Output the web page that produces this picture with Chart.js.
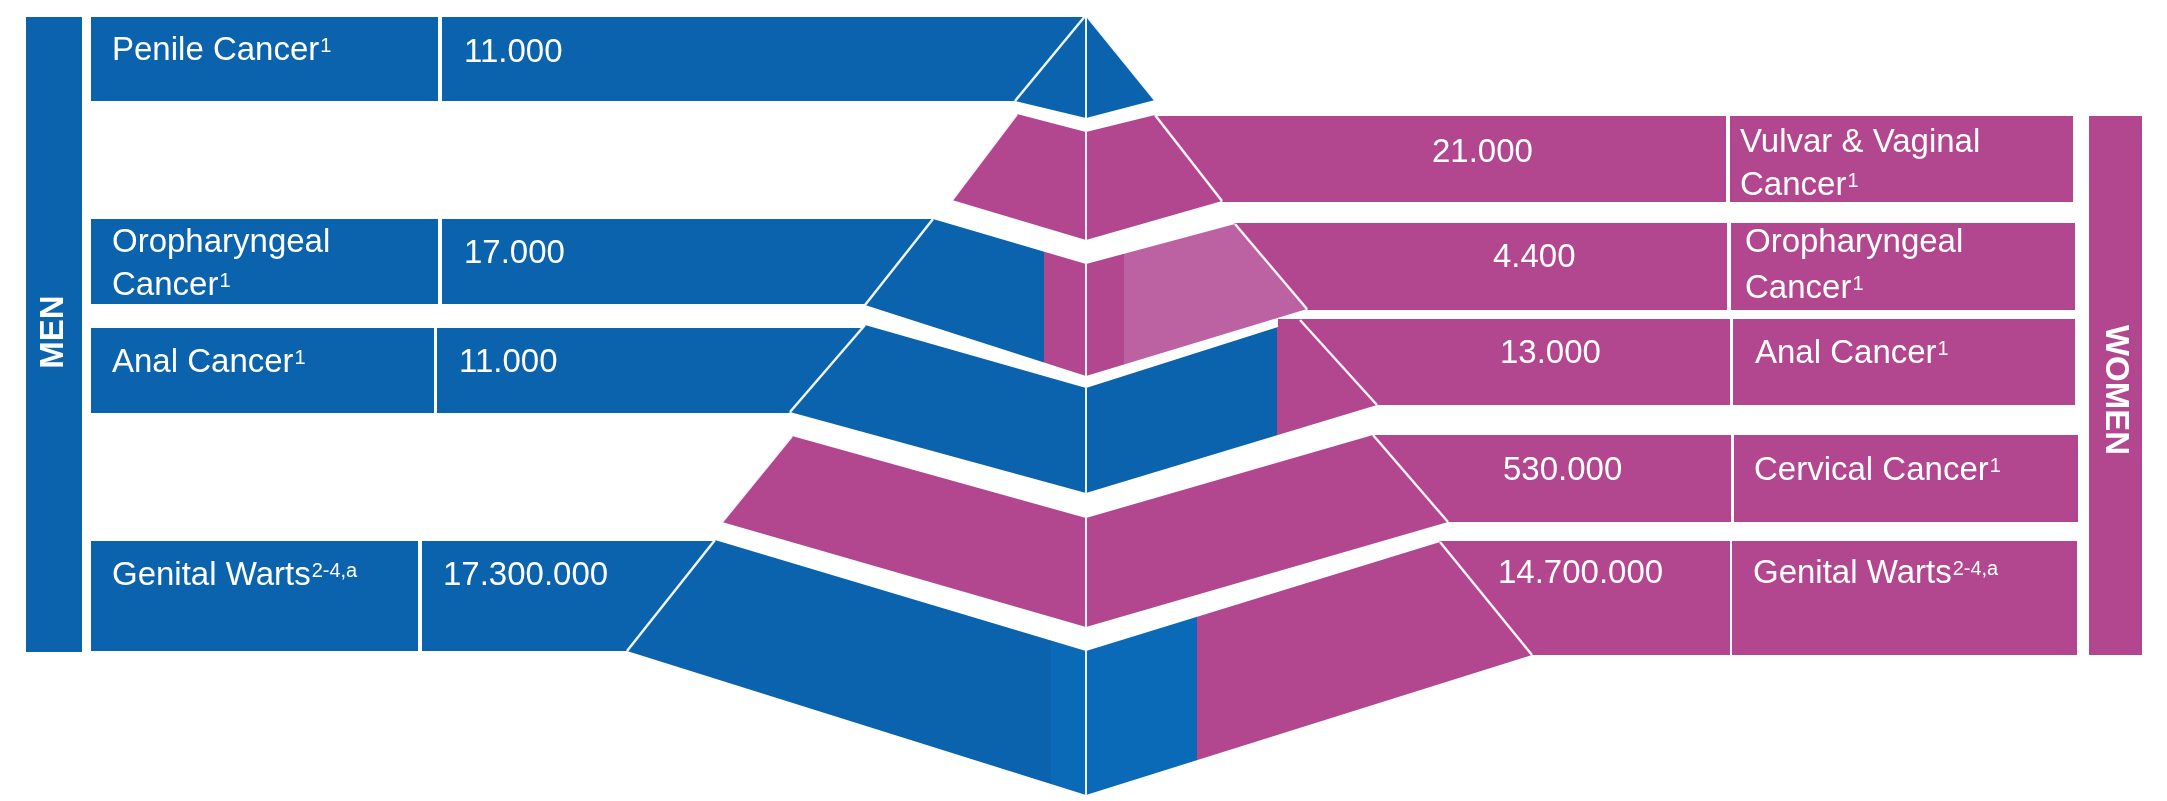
<!DOCTYPE html>
<html lang="en">
<head>
<meta charset="UTF-8">
<title>HPV related diseases - men and women</title>
<script src="https://cdn.jsdelivr.net/npm/chart.js"></script>
<style>
  html, body { margin: 0; padding: 0; background: #fff; }
  canvas { display: block; }
</style>
</head>
<body>
<canvas id="pyramid" width="2167" height="801"></canvas>
<script>
  // ---- data ----
  const menLabels = [['Penile Cancer'], ['Oropharyngeal', 'Cancer'], ['Anal Cancer'], ['Genital Warts']];
  const menRefs = ['1', '1', '1', '2-4,a'];
  const menCases = [11000, 17000, 11000, 17300000];

  const womenLabels = [['Vulvar & Vaginal', 'Cancer'], ['Oropharyngeal', 'Cancer'], ['Anal Cancer'], ['Cervical Cancer'], ['Genital Warts']];
  const womenRefs = ['1', '1', '1', '1', '2-4,a'];
  const womenCases = [21000, 4400, 13000, 530000, 14700000];

  const sideTitles = ['MEN', 'WOMEN'];

  // ---- layout (in scale units, 1 unit = 1px of the picture) ----
  const BLUE = '#0c63ad', BLUE_LIGHT = '#0b6ab7', PINK = '#b2478f', PINK_LIGHT = '#bc61a1';
  const FONT = '"Liberation Sans", Arial, sans-serif';
  const MID = 1086;

  // pyramid tiers top to bottom: outer corners + y of the centre line
  const tiers = [
    { lt: [1086, 15], rt: [1086, 15], ct: 15, lb: [1015, 101], rb: [1155, 100], cb: 118, fills: [[0, BLUE]] },
    { lt: [1017, 114], rt: [1155, 115], ct: 132, lb: [952, 200], rb: [1222, 201], cb: 240, fills: [[0, PINK]] },
    { lt: [933, 219], rt: [1235, 224], ct: 264, lb: [865, 305], rb: [1307, 309], cb: 376, fills: [[0, BLUE], [1044, PINK], [1124, PINK_LIGHT]] },
    { lt: [865, 325], rt: [1300, 320], ct: 388, lb: [790, 412], rb: [1377, 405], cb: 493, fills: [[0, BLUE], [1277, PINK]] },
    { lt: [792, 436], rt: [1373, 435], ct: 518, lb: [722, 522], rb: [1448, 522], cb: 627, fills: [[0, PINK]] },
    { lt: [715, 540], rt: [1440, 542], ct: 651, lb: [627, 651], rb: [1532, 655], cb: 795, fills: [[0, BLUE], [1051, BLUE_LIGHT], [1197, PINK]] }
  ];

  const menRows = [
    { y0: 17, y1: 101, lx1: 438, vx0: 442, tier: 0, textY: [60], valX: 464, valY: 62 },
    { y0: 219, y1: 304, lx1: 438, vx0: 442, tier: 2, textY: [252, 295], valX: 464, valY: 263 },
    { y0: 328, y1: 413, lx1: 434, vx0: 437, tier: 3, textY: [372], valX: 459, valY: 372 },
    { y0: 541, y1: 651, lx1: 418, vx0: 422, tier: 5, textY: [585], valX: 443, valY: 585 }
  ];
  const womenRows = [
    { y0: 116, y1: 202, vx1: 1726, lx0: 1730, lx1: 2073, tier: 1, textX: 1740, textY: [152, 195], valX: 1432, valY: 162 },
    { y0: 223, y1: 310, vx1: 1727, lx0: 1731, lx1: 2075, tier: 2, textX: 1745, textY: [252, 298], valX: 1493, valY: 267 },
    { y0: 319, y1: 405, vx0: 1278, vx1: 1730, lx0: 1733, lx1: 2075, tier: 3, textX: 1755, textY: [363], valX: 1500, valY: 363 },
    { y0: 435, y1: 522, vx1: 1731, lx0: 1734, lx1: 2078, tier: 4, textX: 1754, textY: [480], valX: 1503, valY: 480 },
    { y0: 541, y1: 655, vx1: 1730, lx0: 1732, lx1: 2077, tier: 5, textX: 1753, textY: [583], valX: 1498, valY: 583 }
  ];

  const fmt = v => String(v).replace(/\B(?=(\d{3})+(?!\d))/g, '.');

  // x of a tier's outer edge at height y
  function edgeX(t, side, y) {
    const a = side === 'left' ? t.lt : t.rt;
    const b = side === 'left' ? t.lb : t.rb;
    return a[0] + (b[0] - a[0]) * (y - a[1]) / (b[1] - a[1]);
  }

  const pyramidPlugin = {
    id: 'pyramid',
    afterDraw(chart) {
      const ctx = chart.ctx;
      const X = v => chart.scales.x.getPixelForValue(v);
      const Y = v => chart.scales.y.getPixelForValue(v);

      function poly(pts, color) {
        ctx.beginPath();
        pts.forEach((p, i) => i ? ctx.lineTo(X(p[0]), Y(p[1])) : ctx.moveTo(X(p[0]), Y(p[1])));
        ctx.closePath();
        ctx.fillStyle = color;
        ctx.fill();
      }
      function rect(x0, y0, x1, y1, color) {
        poly([[x0, y0], [x1, y0], [x1, y1], [x0, y1]], color);
      }
      function label(lines, ref, x, ys) {
        ctx.fillStyle = '#fff';
        ctx.textAlign = 'left';
        ctx.textBaseline = 'alphabetic';
        ctx.font = '33px ' + FONT;
        lines.forEach((line, i) => ctx.fillText(line, X(x), Y(ys[i])));
        const last = lines[lines.length - 1];
        const w = ctx.measureText(last).width;
        ctx.font = '20px ' + FONT;
        ctx.fillText(ref, X(x) + w + 1, Y(ys[ys.length - 1] - 8));
      }

      ctx.save();

      // side bars
      rect(26, 17, 82, 652, BLUE);
      rect(2089, 116, 2142, 655, PINK);

      // men boxes
      menRows.forEach((r, i) => {
        const t = tiers[r.tier];
        rect(91, r.y0, r.lx1, r.y1, BLUE);
        poly([[r.vx0, r.y0], [edgeX(t, 'left', r.y0), r.y0], [edgeX(t, 'left', r.y1), r.y1], [r.vx0, r.y1]], BLUE);
      });

      // women boxes
      womenRows.forEach((r, i) => {
        const t = tiers[r.tier];
        if (r.vx0) rect(r.vx0, r.y0, r.vx1, r.y1, PINK);
        else poly([[edgeX(t, 'right', r.y0), r.y0], [r.vx1, r.y0], [r.vx1, r.y1], [edgeX(t, 'right', r.y1), r.y1]], PINK);
        rect(r.lx0, r.y0, r.lx1, r.y1, PINK);
      });

      // pyramid tiers
      tiers.forEach(t => {
        const pts = [t.lt, [MID, t.ct], t.rt, t.rb, [MID, t.cb], t.lb];
        ctx.save();
        ctx.beginPath();
        pts.forEach((p, i) => i ? ctx.lineTo(X(p[0]), Y(p[1])) : ctx.moveTo(X(p[0]), Y(p[1])));
        ctx.closePath();
        ctx.clip();
        t.fills.forEach((f, i) => {
          const x1 = i + 1 < t.fills.length ? t.fills[i + 1][0] : 2167;
          ctx.fillStyle = f[1];
          ctx.fillRect(X(f[0]), 0, X(x1) - X(f[0]), chart.height);
        });
        ctx.restore();
      });

      // white edges and centre line
      ctx.strokeStyle = 'rgba(255,255,255,0.92)';
      ctx.lineCap = 'butt';
      tiers.forEach(t => {
        ctx.lineWidth = 2.5;
        ctx.beginPath();
        ctx.moveTo(X(t.lt[0]), Y(t.lt[1])); ctx.lineTo(X(t.lb[0]), Y(t.lb[1]));
        ctx.moveTo(X(t.rt[0]), Y(t.rt[1])); ctx.lineTo(X(t.rb[0]), Y(t.rb[1]));
        ctx.stroke();
        ctx.lineWidth = 2;
        ctx.beginPath();
        ctx.moveTo(X(MID), Y(t.ct)); ctx.lineTo(X(MID), Y(t.cb));
        ctx.stroke();
      });

      // texts
      menRows.forEach((r, i) => {
        label(menLabels[i], menRefs[i], 112, r.textY);
        ctx.font = '33px ' + FONT;
        ctx.fillText(fmt(menCases[i]), X(r.valX), Y(r.valY));
      });
      womenRows.forEach((r, i) => {
        label(womenLabels[i], womenRefs[i], r.textX, r.textY);
        ctx.font = '33px ' + FONT;
        ctx.fillText(fmt(womenCases[i]), X(r.valX), Y(r.valY));
      });

      // side titles
      ctx.font = 'bold 33px ' + FONT;
      ctx.textAlign = 'center';
      ctx.textBaseline = 'middle';
      ctx.save();
      ctx.translate(X(54), Y(332));
      ctx.rotate(-Math.PI / 2);
      ctx.fillText(sideTitles[0], 0, 0);
      ctx.restore();
      ctx.save();
      ctx.translate(X(2115), Y(390));
      ctx.rotate(Math.PI / 2);
      ctx.fillText(sideTitles[1], 0, 0);
      ctx.restore();

      ctx.restore();
    }
  };

  new Chart(document.getElementById('pyramid'), {
    type: 'scatter',
    data: { datasets: [] },
    options: {
      responsive: false,
      animation: false,
      events: [],
      layout: { padding: 0 },
      scales: {
        x: { type: 'linear', min: 0, max: 2167, display: false },
        y: { type: 'linear', min: 0, max: 801, reverse: true, display: false }
      },
      plugins: { legend: { display: false }, tooltip: { enabled: false } }
    },
    plugins: [pyramidPlugin]
  });
</script>
</body>
</html>
